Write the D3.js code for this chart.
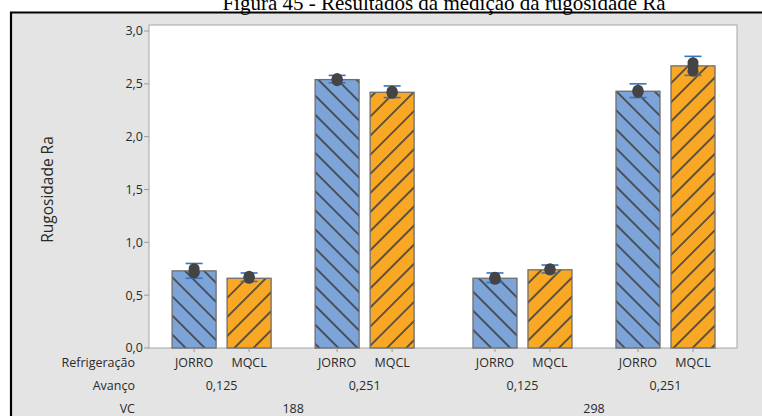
<!DOCTYPE html>
<html><head><meta charset="utf-8">
<script src="https://cdn.jsdelivr.net/npm/d3@7"></script>
<style>
html,body{margin:0;padding:0;background:#fff;}
svg{display:block;}
</style></head>
<body>
<svg id="c" width="762" height="416"></svg>
<script>
// ---- data ----
const refrigeracao = ["JORRO","MQCL","JORRO","MQCL","JORRO","MQCL","JORRO","MQCL"];
const avanco = ["0,125","0,251","0,125","0,251"];
const vc = ["188","298"];
const means = [0.73, 0.66, 2.54, 2.42, 0.66, 0.74, 2.43, 2.67];
const errLow = [0.66, 0.63, 2.51, 2.37, 0.62, 0.71, 2.37, 2.58];
const errHigh = [0.80, 0.71, 2.58, 2.48, 0.71, 0.785, 2.50, 2.76];
const observations = [
  [0.72, 0.75, 0.71], [0.67, 0.66, 0.68], [2.54, 2.55, 2.53], [2.42, 2.41, 2.43],
  [0.66, 0.67, 0.65], [0.74, 0.75, 0.74], [2.43, 2.42, 2.44], [2.67, 2.62, 2.70]
];
const yTicks = [0, 0.5, 1.0, 1.5, 2.0, 2.5, 3.0];
const titleText = "Figura 45 - Resultados da medição da rugosidade Ra";
const yTitle = "Rugosidade Ra";
const rowLabels = ["Refrigeração", "Avanço", "VC"];

// ---- layout ----
const svg = d3.select("#c");
const W = 762, H = 416;
const plot = {l:149, r:737, t:25, b:348};
const font = "'Open Sans', 'Noto Sans', sans-serif";
const fs = 12.5;
const fmt = v => d3.format(".1f")(v).replace(".", ",");

// position index with extra gaps between groups
const pos = refrigeracao.map((d,i) => i + Math.floor(i/2)*0.6 + Math.floor(i/4)*0.27);
const x = d3.scaleLinear().domain([-0.82, pos[pos.length-1] + 0.8]).range([plot.l, plot.r]);
const y = d3.scaleLinear().domain([0, 3]).range([plot.b, 31]);
const bw = x(0.8) - x(0);

// background frame
svg.append("rect").attr("x",0).attr("y",0).attr("width",W).attr("height",H).attr("fill","#fff");
svg.append("rect").attr("x",11).attr("y",13).attr("width",W-11).attr("height",H-13).attr("fill","#e4e4e4");
svg.append("line").attr("x1",10).attr("x2",W).attr("y1",12.5).attr("y2",12.5).attr("stroke","#000").attr("stroke-width",2.2);
svg.append("line").attr("x1",11).attr("x2",11).attr("y1",12).attr("y2",H).attr("stroke","#000").attr("stroke-width",2.2);

// title (clipped at top, as in the source figure)
svg.append("text").attr("x",444).attr("y",9.5).attr("text-anchor","middle")
  .attr("font-family","'Liberation Serif','Times New Roman',serif").attr("font-size",21)
  .attr("fill","#000").text(titleText);

// plot area
svg.append("rect").attr("x",plot.l).attr("y",plot.t).attr("width",plot.r-plot.l).attr("height",plot.b-plot.t)
  .attr("fill","#fff").attr("stroke","#a6a6a6").attr("stroke-width",1);

// patterns
const defs = svg.append("defs");
function hatch(id, fill, angle){
  const p = defs.append("pattern").attr("id",id).attr("patternUnits","userSpaceOnUse")
    .attr("width",13.5).attr("height",13.5).attr("patternTransform",`rotate(${angle})`);
  p.append("rect").attr("width",13.5).attr("height",13.5).attr("fill",fill);
  p.append("line").attr("x1",6.75).attr("x2",6.75).attr("y1",0).attr("y2",13.5)
    .attr("stroke","#3d3d3d").attr("stroke-width",1.6);
}
hatch("hJ","#7ca4d9",-45);
hatch("hM","#f9a825",45);

// bars
svg.append("g").selectAll("rect").data(means).join("rect")
  .attr("x",(d,i)=>x(pos[i]) - bw/2).attr("width",bw)
  .attr("y",d=>y(d)).attr("height",d=>y(0)-y(d))
  .attr("fill",(d,i)=> refrigeracao[i]==="JORRO" ? "url(#hJ)" : "url(#hM)")
  .attr("stroke","#6e6e6e").attr("stroke-width",1.3);

// error bars
const eb = svg.append("g").attr("stroke","#3a73b8").attr("stroke-width",1.6);
means.forEach((m,i)=>{
  const cx = x(pos[i]);
  eb.append("line").attr("x1",cx).attr("x2",cx).attr("y1",y(errLow[i])).attr("y2",y(errHigh[i]));
  [errLow[i], errHigh[i]].forEach(v=>{
    eb.append("line").attr("x1",cx-8.5).attr("x2",cx+8.5).attr("y1",y(v)).attr("y2",y(v));
  });
});

// observation points
const pts = svg.append("g").attr("fill","#444");
observations.forEach((arr,i)=>{
  arr.forEach(v=>{
    pts.append("circle").attr("cx",x(pos[i])).attr("cy",y(v)).attr("r",5.5);
  });
});

// y axis
const ya = svg.append("g").attr("font-family",font).attr("font-size",fs).attr("fill","#2a2a2a");
yTicks.forEach(t=>{
  ya.append("line").attr("x1",plot.l-5).attr("x2",plot.l).attr("y1",y(t)).attr("y2",y(t)).attr("stroke","#9a9a9a");
  ya.append("text").attr("x",plot.l-6).attr("y",y(t)).attr("dy","0.35em").attr("text-anchor","end").text(fmt(t));
});
svg.append("text").attr("transform",`translate(53,${(plot.t+plot.b)/2+3}) rotate(-90)`)
  .attr("text-anchor","middle").attr("font-family",font).attr("font-size",15.5).attr("fill","#2a2a2a").text(yTitle);

// x axis ticks and labels
const xa = svg.append("g").attr("font-family",font).attr("font-size",fs).attr("fill","#2a2a2a");
refrigeracao.forEach((r,i)=>{
  const cx = x(pos[i]);
  xa.append("line").attr("x1",cx).attr("x2",cx).attr("y1",plot.b).attr("y2",plot.b+4).attr("stroke","#9a9a9a");
  xa.append("text").attr("x",cx).attr("y",363).attr("dy","0.35em").attr("text-anchor","middle").text(r);
});
avanco.forEach((a,j)=>{
  const cx = (x(pos[2*j]) + x(pos[2*j+1]))/2;
  xa.append("text").attr("x",cx).attr("y",386).attr("dy","0.35em").attr("text-anchor","middle").text(a);
});
vc.forEach((v,k)=>{
  const cx = (x(pos[4*k]) + x(pos[4*k+3]))/2;
  xa.append("text").attr("x",cx).attr("y",409).attr("dy","0.35em").attr("text-anchor","middle").text(v);
});
rowLabels.forEach((t,k)=>{
  xa.append("text").attr("x",135).attr("y",363+23*k).attr("dy","0.35em").attr("text-anchor","end").text(t);
});
</script>
</body></html>
